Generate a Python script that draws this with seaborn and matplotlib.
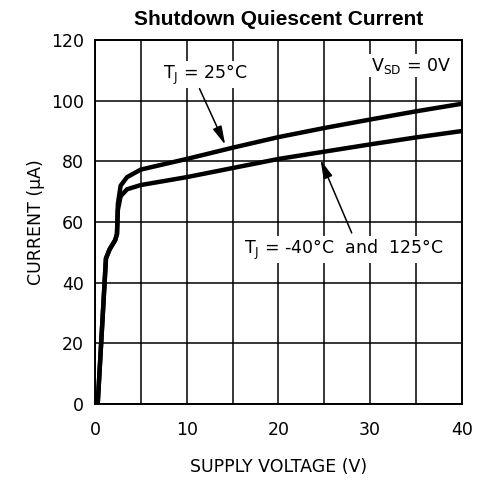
import matplotlib
matplotlib.use("Agg")
import matplotlib.pyplot as plt
import seaborn as sns
import pandas as pd

# supply voltage (V) and quiescent current (uA)
v_25 = [0.3, 1.2, 1.6, 2.2, 2.4, 2.5, 2.8, 3.5, 5, 10, 15, 20, 25, 30, 35, 40]
i_25 = [0, 48, 51, 54, 56, 66, 72, 74.8, 77.3, 80.8, 84.5, 88, 91, 93.8, 96.5, 99]

v_hot_cold = [0.3, 1.2, 1.6, 2.2, 2.4, 2.5, 2.8, 3.5, 5, 10, 15, 20, 25, 30, 35, 40]
i_hot_cold = [0, 48, 51, 54, 56, 64, 68.5, 70.8, 72.2, 74.8, 77.8, 80.8, 83.2, 85.6, 87.9, 90]

df = pd.concat([
    pd.DataFrame({"v": v_25, "i": i_25, "temp": "25"}),
    pd.DataFrame({"v": v_hot_cold, "i": i_hot_cold, "temp": "-40/125"}),
])

sns.set_style("white")
plt.rcParams["font.family"] = ["DejaVu Sans"]
plt.rcParams["mathtext.default"] = "regular"
plt.rcParams["text.color"] = "black"
plt.rcParams["axes.labelcolor"] = "black"
plt.rcParams["xtick.color"] = "black"
plt.rcParams["ytick.color"] = "black"

fig = plt.figure(figsize=(4.82, 4.83), dpi=100)
ax = fig.add_axes([0.197, 0.1636, 0.761, 0.7534])

sns.lineplot(data=df, x="v", y="i", hue="temp", palette=["black", "black"],
             linewidth=3.2, legend=False, ax=ax, sort=False, zorder=3)

ax.set_xlim(0, 40)
ax.set_ylim(0, 120)
ax.set_xticks(range(0, 41, 5))
ax.set_xticklabels(["0", "", "10", "", "20", "", "30", "", "40"])
ax.set_yticks(range(0, 121, 20))
ax.tick_params(length=0, labelsize=12.5)
ax.tick_params(axis="x", pad=12)
ax.tick_params(axis="y", pad=8)
ax.grid(True, color="black", linewidth=1.1)
for s in ax.spines.values():
    s.set_color("black")
    s.set_linewidth(1.4)

ax.set_xlabel("SUPPLY VOLTAGE (V)", fontsize=12.5, labelpad=14)
ax.set_ylabel("CURRENT (µA)", fontsize=12.5, labelpad=4)
ax.set_title("Shutdown Quiescent Current", fontsize=15, fontweight="bold",
             family="Liberation Sans", pad=11)

box = dict(facecolor="white", edgecolor="none", pad=1)
arrow = dict(arrowstyle="-|>,head_width=0.2,head_length=0.8", color="black",
             lw=1.1, shrinkA=0, shrinkB=0, mutation_scale=14)

ax.text(38.8, 111.5, "V$_{SD}$ = 0V", fontsize=12.5, ha="right", va="center",
        bbox=box, zorder=4)

ax.text(12.0, 108.5, "T$_J$ = 25°C", fontsize=12.5, ha="center", va="center",
        bbox=box, zorder=4)
ax.annotate("", xy=(14.2, 85.5), xytext=(11.4, 104), arrowprops=arrow, zorder=4)

ax.text(27.1, 50.8, "T$_J$ = -40°C  and  125°C", fontsize=12.5, ha="center",
        va="center", bbox=box, zorder=4)
ax.annotate("", xy=(24.6, 80.5), xytext=(28.0, 56.4), arrowprops=arrow, zorder=4)

fig.savefig("out.png", dpi=100)
